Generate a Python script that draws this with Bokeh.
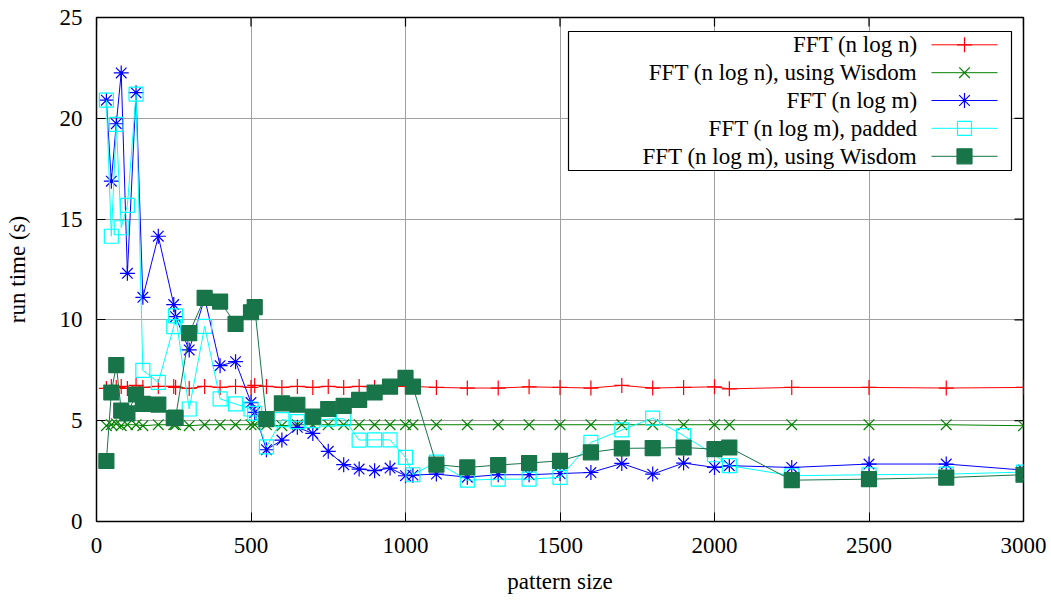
from bokeh.plotting import figure
from bokeh.models import Range1d, FixedTicker, Title
from bokeh.embed import file_html
from bokeh.resources import INLINE
from bokeh.core.properties import value

# pattern sizes measured
sizes = [32, 48, 64, 80, 100, 128, 150, 200, 250, 256, 300, 350, 400, 450, 500, 512,
         550, 600, 650, 700, 750, 800, 850, 900, 950, 1000, 1024,
         1100, 1200, 1300, 1400, 1500, 1600, 1700, 1800, 1900, 2000, 2048,
         2250, 2500, 2750, 3000]

# run times in seconds
fft_nlogn = [6.6, 6.7, 6.65, 6.7, 6.6, 6.75, 6.65, 6.7, 6.7, 6.65, 6.6, 6.7, 6.65, 6.7,
             6.65, 6.75, 6.7, 6.65, 6.7, 6.65, 6.7, 6.65, 6.7, 6.65, 6.7, 6.7, 6.7,
             6.65, 6.62, 6.62, 6.68, 6.65, 6.62, 6.75, 6.62, 6.65, 6.68, 6.58,
             6.65, 6.65, 6.62, 6.65]
fft_nlogn_wisdom = [4.75, 4.8, 4.85, 4.75, 4.8, 4.8, 4.75, 4.8, 4.8, 4.8, 4.75, 4.8, 4.8,
                    4.8, 4.8, 4.8, 4.8, 4.75, 4.8, 4.8, 4.8, 4.8, 4.8, 4.8, 4.8, 4.8,
                    4.8, 4.8, 4.8, 4.8, 4.8, 4.8, 4.8, 4.8, 4.8, 4.8, 4.8, 4.8, 4.8,
                    4.8, 4.8, 4.75]
fft_nlogm = [20.9, 16.88, 19.73, 22.25, 12.31, 21.27, 11.12, 14.15, 10.76, 10.16,
             8.51, 11.09, 7.73, 7.93, 5.9, 5.41,
             3.56, 4.04, 4.67, 4.37, 3.48, 2.82, 2.6, 2.52, 2.65, 2.27, 2.3,
             2.35, 2.2, 2.32, 2.32, 2.38, 2.43, 2.88, 2.35, 2.9, 2.68, 2.77,
             2.68, 2.85, 2.85, 2.55]
fft_nlogm_padded = [20.9, 14.15, 19.7, 14.57, 15.68, 21.2, 7.5, 6.9, 9.67, 10.2,
                    5.58, 9.68, 6.08, 5.83, 5.58, 5.36,
                    3.7, 5.05, 4.95, 5.0, 5.08, 5.1, 4.04, 4.05, 4.05, 3.18, 2.32,
                    2.95, 2.05, 2.1, 2.1, 2.19, 3.92, 4.54, 5.13, 4.26, 3.31, 2.77,
                    2.27, 2.32, 2.35, 2.45]
fft_nlogm_wisdom = [3.0, 6.4, 7.76, 5.5, 5.36, 6.3, 5.83, 5.8, 5.13, 5.15,
                    9.34, 11.09, 10.91, 9.8, 10.38, 10.63,
                    5.08, 5.86, 5.79, 5.2, 5.58, 5.74, 6.03, 6.4, 6.69, 7.12, 6.69,
                    2.82, 2.68, 2.8, 2.9, 3.01, 3.43, 3.63, 3.64, 3.67, 3.59, 3.67,
                    2.05, 2.1, 2.18, 2.32]

labels = ["FFT (n log n)", "FFT (n log n), using Wisdom", "FFT (n log m)",
          "FFT (n log m), padded", "FFT (n log m), using Wisdom"]
x_ticks = [0, 500, 1000, 1500, 2000, 2500, 3000]
y_ticks = [0, 5, 10, 15, 20, 25]

FONT = "Liberation Serif"
FS = "23px"

W, H = 1051, 605
ML, MR, MT, MB = 96, 28, 17, 84
FW, FH = W - ML - MR, H - MT - MB
TICK = 9

p = figure(width=W, height=H, output_backend="svg", toolbar_location=None,
           x_range=Range1d(0, 3000), y_range=Range1d(0, 25),
           min_border_left=ML, min_border_right=MR, min_border_top=MT,
           min_border_bottom=MB)
p.background_fill_color = "white"
p.border_fill_color = "white"
p.outline_line_color = "black"
p.outline_line_width = 1.5
p.outline_line_alpha = 1.0

p.xgrid.ticker = FixedTicker(ticks=x_ticks)
p.ygrid.ticker = FixedTicker(ticks=y_ticks)
p.grid.grid_line_color = "#a0a0a0"
p.grid.grid_line_width = 1

p.xaxis.ticker = FixedTicker(ticks=x_ticks)
p.yaxis.ticker = FixedTicker(ticks=y_ticks)
p.yaxis.axis_label = "run time (s)"
for ax in p.xaxis + p.yaxis:
    ax.major_label_text_font = FONT
    ax.major_label_text_font_size = FS
    ax.major_label_text_color = "black"
    ax.axis_label_text_font = FONT
    ax.axis_label_text_font_size = FS
    ax.axis_label_text_font_style = "normal"
    ax.axis_label_text_color = "black"
    ax.axis_line_color = None
    ax.major_tick_in = TICK
    ax.major_tick_out = 0
    ax.major_tick_line_color = "black"
    ax.major_tick_line_width = 1
    ax.minor_tick_line_color = None
p.xaxis.major_label_standoff = 16
p.yaxis.major_label_standoff = 14
p.yaxis.axis_label_standoff = 27

# x axis title, stacked below the tick labels
p.add_layout(Title(text="pattern size", align="center", text_font=FONT,
                   text_font_size=FS, text_font_style="normal", text_color="black",
                   standoff=23, offset=-3), "below")

# pixel coordinates of the plot frame (origin top-left) for the key and extras
p.extra_x_ranges = {"kx": Range1d(0, FW)}
p.extra_y_ranges = {"ky": Range1d(FH, 0)}

# mirrored ticks on the top and right edges of the frame
p.segment(x0=x_ticks, x1=x_ticks, y0=[0] * len(x_ticks), y1=[TICK] * len(x_ticks),
          line_color="black", line_width=1.2, y_range_name="ky")
p.segment(x0=[FW - TICK] * len(y_ticks), x1=[FW] * len(y_ticks), y0=y_ticks, y1=y_ticks,
          line_color="black", line_width=1.2, x_range_name="kx")

styles = [
    (fft_nlogn, "#ff0000", "cross", None, 15),
    (fft_nlogn_wisdom, "#008000", "x", None, 15),
    (fft_nlogm, "#0000ff", "asterisk", None, 15),
    (fft_nlogm_padded, "#00ffff", "square", None, 14),
    (fft_nlogm_wisdom, "#187449", "square", "#187449", 15),
]

for ys, color, marker, fill, sz in styles:
    p.line(sizes, ys, line_color=color, line_width=1)
    p.scatter(sizes, ys, marker=marker, size=sz, line_color=color,
              fill_color=fill, line_width=1.2)
    if marker == "asterisk":
        p.scatter(sizes, ys, marker="circle", size=3, line_color=None, fill_color=color)

# key box
key_left, key_right, key_top, key_bottom = 472, 915, 14, 153
row_y = [27.3, 55.2, 83.0, 110.8, 138.8]
text_x, seg_x0, seg_x1, mark_x = 821, 835, 901, 868

p.quad(left=[key_left], right=[key_right], top=[key_top], bottom=[key_bottom],
       fill_color="white", line_color="black", line_width=1.2,
       x_range_name="kx", y_range_name="ky")
p.text(x=[text_x] * len(labels), y=row_y, text=labels, text_align="right",
       text_baseline="middle", text_font=value(FONT), text_font_size=FS,
       text_color="black", x_range_name="kx", y_range_name="ky")
for (ys, color, marker, fill, sz), ry in zip(styles, row_y):
    p.segment(x0=[seg_x0], x1=[seg_x1], y0=[ry], y1=[ry], line_color=color,
              line_width=1, x_range_name="kx", y_range_name="ky")
    p.scatter([mark_x], [ry], marker=marker, size=sz, line_color=color,
              fill_color=fill, line_width=1.2, x_range_name="kx", y_range_name="ky")
    if marker == "asterisk":
        p.scatter([mark_x], [ry], marker="circle", size=3, line_color=None,
                  fill_color=color, x_range_name="kx", y_range_name="ky")

open("out.html", "w").write(file_html(p, INLINE))
